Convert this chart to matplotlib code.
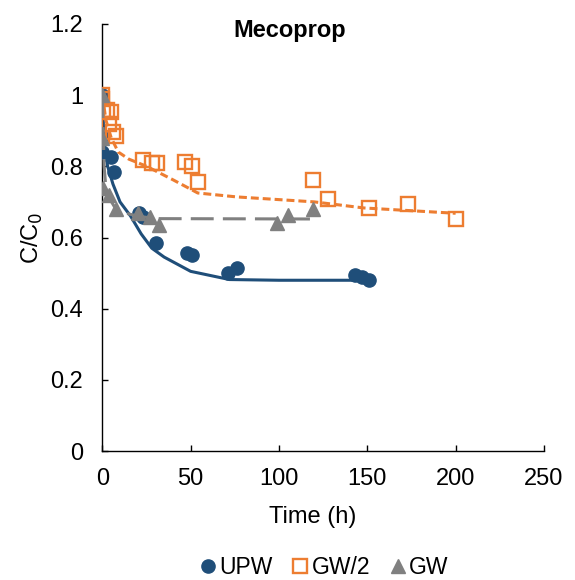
import matplotlib
matplotlib.use("Agg")
import matplotlib.pyplot as plt
from matplotlib.lines import Line2D

plt.rcParams['font.family'] = ['Liberation Sans', 'DejaVu Sans']

# measured points
upw_t = [0, 0, 0, 5, 6.5, 20.5, 23, 30.5, 48, 51, 71, 76, 143, 147, 151]
upw_c = [1.0, 0.883, 0.84, 0.826, 0.784, 0.668, 0.658, 0.585, 0.556, 0.551, 0.50, 0.515, 0.495, 0.49, 0.48]

gw2_t = [0, 0, 0.5, 2.5, 5, 3.5, 6, 8, 23, 28, 31, 47, 51, 54, 119, 128, 151, 173, 200]
gw2_c = [1.0, 0.99, 0.958, 0.958, 0.953, 0.92, 0.897, 0.885, 0.818, 0.809, 0.81, 0.812, 0.80, 0.756,
         0.762, 0.708, 0.683, 0.694, 0.652]

gw_t = [0, 0, 0.5, 4, 8, 20, 27, 32, 99, 105, 119]
gw_c = [1.0, 0.88, 0.74, 0.72, 0.68, 0.668, 0.658, 0.635, 0.641, 0.663, 0.68]

# model curves
upw_mt = [0, 1, 3, 6, 10, 16, 22, 28, 35, 50, 72, 100, 151]
upw_mc = [1.0, 0.86, 0.80, 0.75, 0.70, 0.66, 0.61, 0.57, 0.545, 0.505, 0.482, 0.48, 0.48]

gw2_mt = [0, 2, 5, 9, 15, 25, 40, 54, 76, 120, 148, 200]
gw2_mc = [1.0, 0.93, 0.88, 0.84, 0.82, 0.80, 0.762, 0.725, 0.714, 0.70, 0.683, 0.668]

gw_mt = [0, 1, 2, 4, 7, 12, 20, 30, 119]
gw_mc = [1.0, 0.80, 0.74, 0.71, 0.685, 0.67, 0.66, 0.653, 0.652]

blue = '#1F4E79'
orange = '#ED7D31'
gray = '#808080'

fig = plt.figure(figsize=(5.75, 5.8), dpi=100)
ax = fig.add_axes([0.178, 0.222, 0.768, 0.737])

ax.plot(upw_mt, upw_mc, color=blue, lw=2.2, zorder=2)
ax.plot(upw_t, upw_c, 'o', color=blue, ms=9.5, zorder=3)

ax.plot(gw2_mt, gw2_mc, color=orange, lw=2.2, dashes=(2.6, 1.3), zorder=4)
ax.plot(gw2_t, gw2_c, 's', mfc='none', mec=orange, mew=1.7, ms=10.5, zorder=5)

ax.plot(gw_mt, gw_mc, color=gray, lw=2.2, dashes=(7.5, 3), zorder=6)
ax.plot(gw_t, gw_c, '^', color=gray, ms=9.5, zorder=7)

ax.set_xlim(0, 250)
ax.set_ylim(0, 1.2)
ax.set_xticks([0, 50, 100, 150, 200, 250])
ax.set_yticks([0, 0.2, 0.4, 0.6, 0.8, 1.0, 1.2])
ax.set_yticklabels(['0', '0.2', '0.4', '0.6', '0.8', '1', '1.2'])
ax.tick_params(direction='in', length=4.5, width=1, labelsize=17, color='black')
ax.tick_params(axis='y', pad=14)
ax.tick_params(axis='x', pad=12)
ax.spines['top'].set_visible(False)
ax.spines['right'].set_visible(False)
for s in ['left', 'bottom']:
    ax.spines[s].set_linewidth(1)

fig.text(0.503, 0.948, 'Mecoprop', fontsize=17, fontweight='bold', ha='center', va='center')
fig.text(0.057, 0.59, 'C/C$_0$', fontsize=17, rotation=90, ha='center', va='center')
fig.text(0.543, 0.108, 'Time (h)', fontsize=17, ha='center', va='center')

handles = [
    Line2D([], [], ls='none', marker='o', color=blue, ms=9.5),
    Line2D([], [], ls='none', marker='s', mfc='none', mec=orange, mew=1.7, ms=10.5),
    Line2D([], [], ls='none', marker='^', color=gray, ms=9.5),
]
fig.legend(handles, ['UPW', 'GW/2', 'GW'], loc='center', bbox_to_anchor=(0.565, 0.022), ncol=3,
           frameon=False, fontsize=16.5, handlelength=0.6, handletextpad=0.2, columnspacing=0.9)

fig.savefig('out.png', dpi=100)
